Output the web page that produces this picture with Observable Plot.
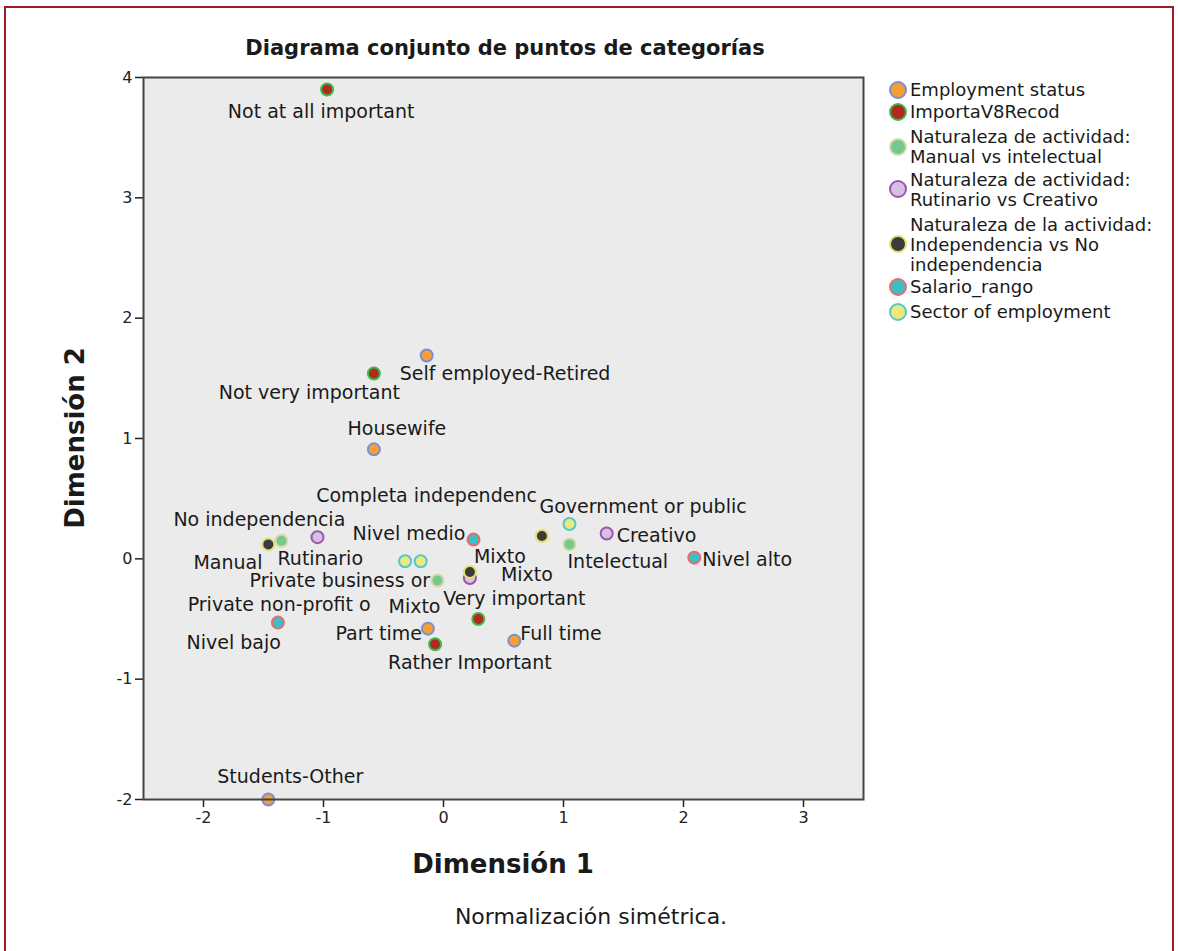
<!DOCTYPE html>
<html>
<head>
<meta charset="utf-8">
<script src="https://cdn.jsdelivr.net/npm/d3@7"></script>
<script src="https://cdn.jsdelivr.net/npm/@observablehq/plot@0.6"></script>
<style>
  html, body { margin: 0; padding: 0; background: #fff; }
  body { font-family: "DejaVu Sans", sans-serif; color: #1a1a1a; }
  #wrap { position: relative; width: 1178px; height: 951px; overflow: hidden; }
  #border { position: absolute; left: 4px; top: 6px; width: 1170px; height: 960px;
            border: 2px solid #9d1c21; box-sizing: border-box; }
  #chart { position: absolute; left: 0; top: 0; }
  .abs { position: absolute; white-space: nowrap; }
  #title { left: 0; width: 1010px; top: 36px; text-align: center; font-weight: bold; font-size: 21px; }
  #xlab { left: 0; width: 1006px; top: 849px; text-align: center; font-weight: bold; font-size: 26px; }
  #ylab { left: 75px; top: 438px; transform: translate(-50%, -50%) rotate(-90deg); font-weight: bold; font-size: 26px; }
  #caption { left: 0; width: 1182px; top: 904px; text-align: center; font-size: 22px; }
  .lg { position: absolute; left: 910px; font-size: 18px; line-height: 20px; height: 20px; white-space: nowrap; }
  .lgc { position: absolute; width: 14px; height: 14px; border-radius: 50%; border: 2px solid; left: 889px; }
</style>
</head>
<body>
<div id="wrap">
  <div id="border"></div>
  <div id="chart"></div>
  <div id="title" class="abs">Diagrama conjunto de puntos de categorías</div>
  <div id="xlab" class="abs">Dimensión 1</div>
  <div id="ylab" class="abs">Dimensión 2</div>
  <div id="caption" class="abs">Normalización simétrica.</div>
  <div id="legend"></div>
</div>
<script>
// ---- Data ----
const groups = [
  "Employment status",
  "ImportaV8Recod",
  "Naturaleza de actividad: Manual vs intelectual",
  "Naturaleza de actividad: Rutinario vs Creativo",
  "Naturaleza de la actividad: Independencia vs No independencia",
  "Salario_rango",
  "Sector of employment"
];
const legendLines = [
  ["Employment status"],
  ["ImportaV8Recod"],
  ["Naturaleza de actividad:", "Manual vs intelectual"],
  ["Naturaleza de actividad:", "Rutinario vs Creativo"],
  ["Naturaleza de la actividad:", "Independencia vs No", "independencia"],
  ["Salario_rango"],
  ["Sector of employment"]
];
const categories = [
  "Not at all important", "Not very important", "Very important", "Rather Important",
  "Self employed-Retired", "Housewife", "Part time", "Full time", "Students-Other",
  "Manual", "Mixto", "Intelectual",
  "Rutinario", "Mixto", "Creativo",
  "No independencia", "Mixto", "Completa independenc",
  "Nivel bajo", "Nivel medio", "Nivel alto",
  "Private business or", "Private non-profit o", "Government or public"
];
const dim1 = [
  -0.97, -0.58, 0.29, -0.07,
  -0.14, -0.58, -0.13, 0.59, -1.46,
  -1.35, -0.05, 1.05,
  -1.05, 0.22, 1.36,
  -1.46, 0.22, 0.82,
  -1.38, 0.25, 2.09,
  -0.32, -0.19, 1.05
];
const dim2 = [
  3.90, 1.54, -0.50, -0.71,
  1.69, 0.91, -0.58, -0.68, -2.00,
  0.15, -0.18, 0.12,
  0.18, -0.16, 0.21,
  0.12, -0.11, 0.19,
  -0.53, 0.16, 0.01,
  -0.02, -0.02, 0.29
];
const groupOf = [
  1, 1, 1, 1,
  0, 0, 0, 0, 0,
  2, 2, 2,
  3, 3, 3,
  4, 4, 4,
  5, 5, 5,
  6, 6, 6
];
const xTicks = [-2, -1, 0, 1, 2, 3];
const yTicks = [-2, -1, 0, 1, 2, 3, 4];

// ---- Styles (kept apart from data) ----
const fillColors   = ["#f4a035", "#b02a22", "#74c98f", "#d8c0e2", "#393b3f", "#3bbfc4", "#eee87e"];
const strokeColors = ["#7b8fd6", "#3cba4c", "#d6dba6", "#9a55b4", "#e4e16a", "#ec6a6a", "#4fc8cf"];
// label placement: [textAnchor, dx, dy]
const labelPlace = [
  ["middle", -6, 22], ["end", 26, 19], ["start", -35, -20], ["start", -47, 19],
  ["start", -27, 18], ["middle", 23, -20], ["end", -6, 5], ["start", 6, -7], ["middle", 22, -23],
  ["end", -19, 22], ["end", 3, 26], ["start", -2, 18],
  ["start", -40, 22], ["start", 31, -3], ["start", 10, 2],
  ["end", 77, -24], ["start", 4, -15], ["end", -5, -40],
  ["end", 3, 20], ["end", -8, -6], ["start", 8, 2],
  ["end", 25, 20], ["end", -50, 44], ["start", -30, -17]
];

const data = categories.map((c, i) => ({
  name: c, d1: dim1[i], d2: dim2[i], g: groupOf[i],
  anchor: labelPlace[i][0], dx: labelPlace[i][1], dy: labelPlace[i][2]
}));

const fmt = d => String(d);

const textMarks = data.map(d => Plot.text([d], {
  x: "d1", y: "d2", text: "name",
  textAnchor: d.anchor, dx: d.dx, dy: d.dy,
  fontSize: 19, fill: "#1a1a1a", fontFamily: "DejaVu Sans"
}));

const chart = Plot.plot({
  width: 1178,
  height: 951,
  marginLeft: 143,
  marginRight: 315,
  marginTop: 77,
  marginBottom: 152,
  style: { fontFamily: "DejaVu Sans", background: "transparent", overflow: "visible" },
  x: { domain: [-2.5, 3.5], ticks: xTicks, tickFormat: fmt },
  y: { domain: [-2, 4], ticks: yTicks, tickFormat: fmt },
  color: { type: "identity" },
  marks: [
    Plot.frame({ fill: "#ebebeb", stroke: null }),
    Plot.axisX({ ticks: xTicks, tickFormat: fmt, tickSize: 8, tickPadding: 4, fontSize: 16, label: null, stroke: "#222", strokeWidth: 1.5, fill: "#222" }),
    Plot.axisY({ ticks: yTicks, tickFormat: fmt, tickSize: 8, tickPadding: 3, fontSize: 16, label: null, stroke: "#222", strokeWidth: 1.5, fill: "#222" }),
    ...textMarks,
    Plot.dot(data, { x: "d1", y: "d2", r: 6, fill: d => fillColors[d.g], stroke: d => strokeColors[d.g], strokeWidth: 2 }),
    Plot.frame({ stroke: "#444", strokeWidth: 2 })
  ]
});
document.getElementById("chart").appendChild(chart);

// ---- Legend ----
const lineY = [
  [90], [112], [137, 157], [180, 200], [225, 245, 265], [287], [312]
];
const circY = [90, 112, 147, 189, 244, 287, 312];
const legend = document.getElementById("legend");
legendLines.forEach((lines, gi) => {
  const c = document.createElement("div");
  c.className = "lgc";
  c.style.top = (circY[gi] - 9) + "px";
  c.style.background = fillColors[gi];
  c.style.borderColor = strokeColors[gi];
  c.title = groups[gi];
  legend.appendChild(c);
  lines.forEach((t, li) => {
    const e = document.createElement("div");
    e.className = "lg";
    e.textContent = t;
    e.style.top = (lineY[gi][li] - 10) + "px";
    legend.appendChild(e);
  });
});
</script>
</body>
</html>
